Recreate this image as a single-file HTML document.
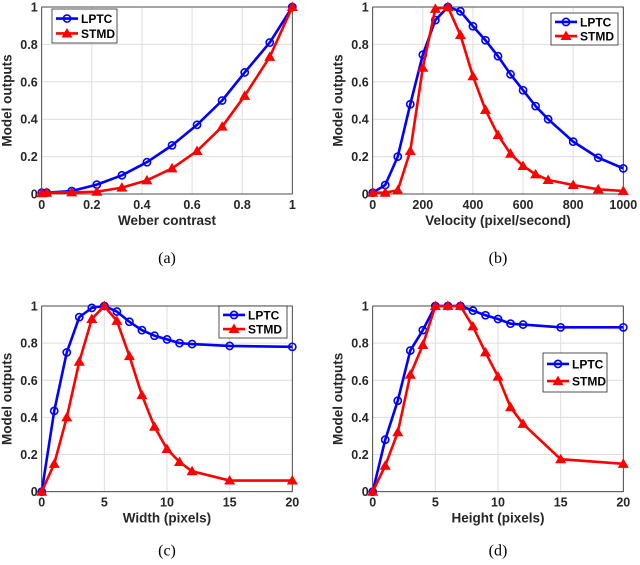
<!DOCTYPE html>
<html><head><meta charset="utf-8"><style>
body{margin:0;background:#fff;width:640px;height:565px;overflow:hidden}
svg{display:block;font-family:"Liberation Sans",sans-serif}
</style></head><body>
<svg id="s" width="640" height="565"></svg>
<script>
const xA=[0,0.02,0.12,0.22,0.32,0.42,0.52,0.62,0.72,0.81,0.91,1];
const lptcA=[0.007,0.007,0.016,0.05,0.1,0.17,0.26,0.37,0.5,0.65,0.81,1];
const stmdA=[0.004,0.007,0.009,0.012,0.034,0.073,0.137,0.23,0.36,0.525,0.733,1];
const xB=[0,50,100,150,200,250,300,350,400,450,500,550,600,650,700,800,900,1000];
const lptcB=[0.007,0.048,0.2,0.48,0.745,0.93,1,0.977,0.897,0.822,0.737,0.64,0.555,0.47,0.4,0.28,0.194,0.137];
const stmdB=[0.007,0.007,0.02,0.23,0.675,0.99,1,0.85,0.63,0.45,0.315,0.215,0.15,0.105,0.075,0.048,0.025,0.016];
const xC=[0,1,2,3,4,5,6,7,8,9,10,11,12,15,20];
const lptcC=[0,0.435,0.75,0.94,0.99,1,0.97,0.915,0.87,0.84,0.82,0.8,0.795,0.785,0.78];
const stmdC=[0,0.15,0.4,0.7,0.93,1,0.92,0.73,0.52,0.35,0.23,0.16,0.11,0.06,0.06];
const xD=[0,1,2,3,4,5,6,7,8,9,10,11,12,15,20];
const lptcD=[0,0.28,0.49,0.76,0.87,1,1,1,0.975,0.95,0.93,0.905,0.9,0.885,0.885];
const stmdD=[0,0.14,0.32,0.63,0.79,1,1,1,0.89,0.75,0.62,0.455,0.365,0.175,0.15];
const yTicks=[0,0.2,0.4,0.6,0.8,1];
const yTickLabels=["0","0.2","0.4","0.6","0.8","1"];
const xTicksA=[0,0.2,0.4,0.6,0.8,1];
const xTickLabelsA=["0","0.2","0.4","0.6","0.8","1"];
const xTicksB=[0,200,400,600,800,1000];
const xTicksCD=[0,5,10,15,20];

const S=document.getElementById('s');const NS='http://www.w3.org/2000/svg';
function el(t,a,p){const e=document.createElementNS(NS,t);for(const k in a)e.setAttribute(k,a[k]);(p||S).appendChild(e);return e;}
function panel(cfg){
  const g=el('g',{});
  
  
  const X=v=>cfg.x0+(v-cfg.xmin)/(cfg.xmax-cfg.xmin)*(cfg.x1-cfg.x0);
  const Y=v=>cfg.yb-v*(cfg.yb-cfg.yt);
  el('rect',{x:cfg.x0,y:cfg.yt,width:cfg.x1-cfg.x0,height:cfg.yb-cfg.yt,fill:'#fff'},g);
  cfg.xt.forEach((t,i)=>{
    el('line',{x1:X(t),x2:X(t),y1:cfg.yt,y2:cfg.yb,stroke:'#dedede','stroke-width':1},g);
    const tx=el('text',{x:X(t),y:cfg.yb+15,'text-anchor':'middle','font-size':12.5,'font-weight':'bold',fill:'#262626'},g);
    tx.textContent=cfg.xl[i];
    
    
  });
  yTicks.forEach((t,i)=>{
    el('line',{x1:cfg.x0,x2:cfg.x1,y1:Y(t),y2:Y(t),stroke:'#dedede','stroke-width':1},g);
    const tx=el('text',{x:cfg.x0-4,y:Y(t)+4.5,'text-anchor':'end','font-size':12.5,'font-weight':'bold',fill:'#262626'},g);
    tx.textContent=yTickLabels[i];
    
    
  });
  el('rect',{x:cfg.x0,y:cfg.yt,width:cfg.x1-cfg.x0,height:cfg.yb-cfg.yt,fill:'none',stroke:'#262626','stroke-width':0.8},g);
  const xt=el('text',{x:(cfg.x0+cfg.x1)/2,y:cfg.yb+31,'text-anchor':'middle','font-size':13.5,'font-weight':'bold',fill:'#262626'},g);
  xt.textContent=cfg.xtitle;
  
  
  const yc=(cfg.yt+cfg.yb)/2, yx=cfg.x0-30;
  const yl=el('text',{x:yx,y:yc,'text-anchor':'middle','font-size':13.5,'font-weight':'bold',fill:'#262626',transform:`rotate(-90 ${yx} ${yc})`},g);
  yl.textContent='Model outputs';
  
  
  const cap=el('text',{x:(cfg.x0+cfg.x1)/2,y:cfg.yb+cfg.capOff,'text-anchor':'middle','font-size':16,'font-family':'Liberation Serif,serif',fill:'#000'},g);
  cap.textContent=cfg.cap;
  
  
  function series(xs,ys,col,mk,nm){
    const pl=el('polyline',{points:xs.map((x,i)=>X(x)+','+Y(ys[i])).join(' '),fill:'none',stroke:col,'stroke-width':2.6,'stroke-linejoin':'round'},g);
    
    
    xs.forEach((x,i)=>{
      const cx=X(x),cy=Y(ys[i]);let m;
      if(mk==='o')m=el('circle',{cx,cy,r:3.6,fill:'none',stroke:col,'stroke-width':1.6},g);
      else m=el('polygon',{points:`${cx},${cy-5.5} ${cx-5.5},${cy+4} ${cx+5.5},${cy+4}`,fill:col},g);
      
      
    });
  }
  series(cfg.xs,cfg.l,'#0000ff','o','lptc');
  series(cfg.xs,cfg.s,'#ff0000','t','stmd');
  const [lx,ly,lw,lh]=cfg.leg;
  const lg=el('g',{},g);
  
  
  el('rect',{x:lx,y:ly,width:lw,height:lh,fill:'#fff',stroke:'#262626','stroke-width':0.8},lg);
  [['LPTC','#0000ff','o'],['STMD','#ff0000','t']].forEach((e,i)=>{
    const yy=ly+lh*(i===0?0.28:0.72);
    el('line',{x1:lx+4,x2:lx+26,y1:yy,y2:yy,stroke:e[1],'stroke-width':2.6},lg);
    if(e[2]==='o')el('circle',{cx:lx+15,cy:yy,r:3.6,fill:'none',stroke:e[1],'stroke-width':1.6},lg);
    else el('polygon',{points:`${lx+15},${yy-5.5} ${lx+9.5},${yy+4} ${lx+20.5},${yy+4}`,fill:e[1]},lg);
    const t=el('text',{x:lx+29,y:yy+4.5,'font-size':12,'font-weight':'bold',fill:'#000'},lg);
    t.textContent=e[0];
    
    
  });
}
panel({name:'panel-a',x0:41.7,x1:292.3,yt:7,yb:194,xmin:0,xmax:1,xt:xTicksA,xl:xTickLabelsA,xs:xA,l:lptcA,s:stmdA,xtitle:'Weber contrast',cap:'(a)',capOff:69,leg:[52,9,65,34]});
panel({name:'panel-b',x0:372.7,x1:623.3,yt:7,yb:194,xmin:0,xmax:1000,xt:xTicksB,xl:xTicksB.map(String),xs:xB,l:lptcB,s:stmdB,xtitle:'Velocity (pixel/second)',cap:'(b)',capOff:69,leg:[551,13,67,32]});
panel({name:'panel-c',x0:41.7,x1:292.3,yt:306,yb:491.7,xmin:0,xmax:20,xt:xTicksCD,xl:xTicksCD.map(String),xs:xC,l:lptcC,s:stmdC,xtitle:'Width (pixels)',cap:'(c)',capOff:64,leg:[219,306,68,32]});
panel({name:'panel-d',x0:372.7,x1:623.3,yt:306,yb:491.7,xmin:0,xmax:20,xt:xTicksCD,xl:xTicksCD.map(String),xs:xD,l:lptcD,s:stmdD,xtitle:'Height (pixels)',cap:'(d)',capOff:64,leg:[543,353,64,39]});
</script>
</body></html>
